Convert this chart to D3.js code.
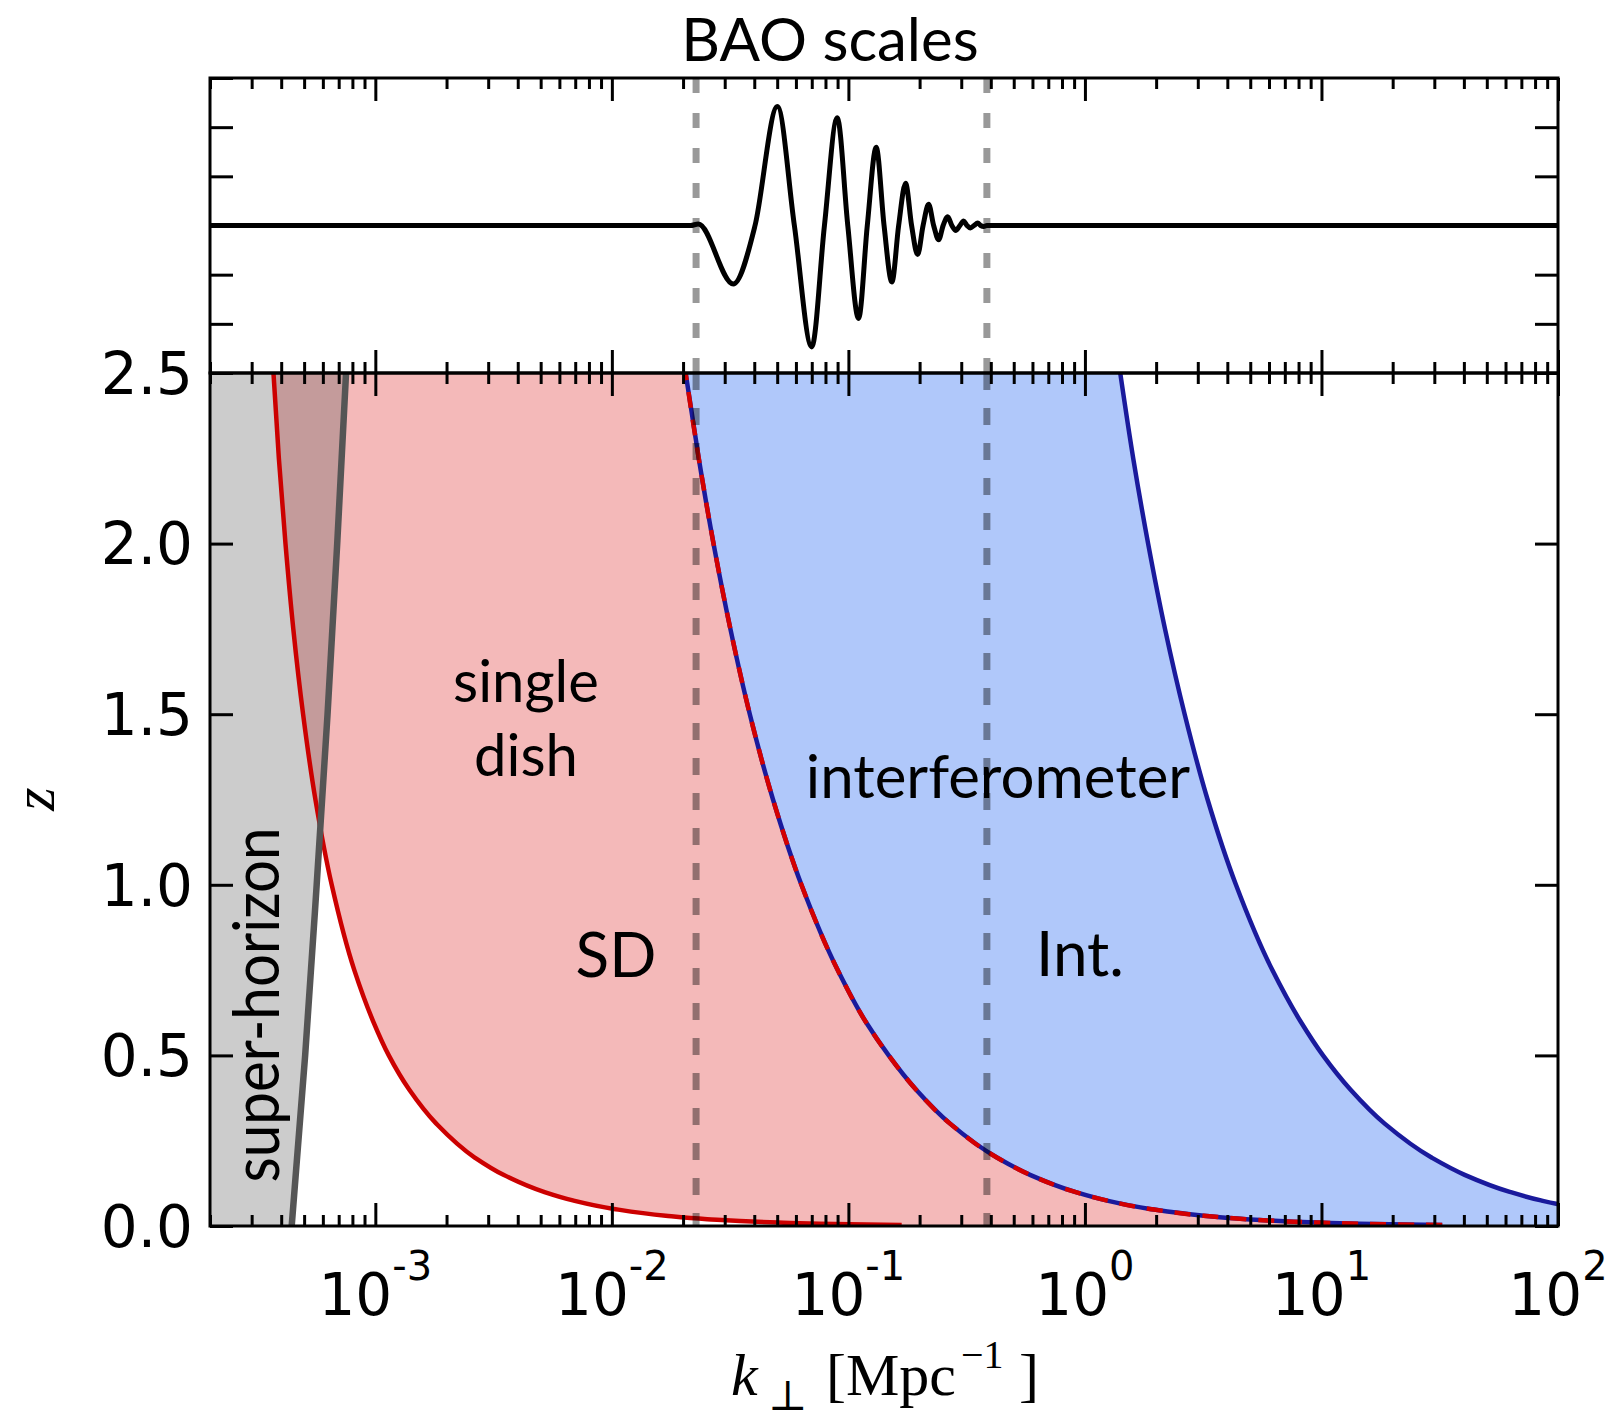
<!DOCTYPE html>
<html>
<head>
<meta charset="utf-8">
<script src="https://cdn.jsdelivr.net/npm/d3@7"></script>
<style>
  body { margin: 0; background: #fff; }
  svg { display: block; }
</style>
</head>
<body>
<div id="chart"></div>
<script>
// x axis (k_perp, Mpc^-1)
const kDomain = [2e-4, 100];
const xMajor = [1e-3, 1e-2, 1e-1, 1, 10, 100];
const xMajorExp = ["-3", "-2", "-1", "0", "1", "2"];
const zTicks = [0, 0.5, 1, 1.5, 2, 2.5];
const zTickLabels = ["0.0", "0.5", "1.0", "1.5", "2.0", "2.5"];
const topTicks = [-3, -2, -1, 0, 1, 2, 3];

// survey boundaries in the k-z plane
const zGrid = [0.003, 0.005, 0.01, 0.02, 0.03, 0.05, 0.075, 0.1, 0.15, 0.2, 0.3, 0.4, 0.5, 0.6, 0.75, 1.0, 1.25, 1.5, 1.75, 2.0, 2.25, 2.5];
const kSingleMin = [0.168, 0.101, 0.0506, 0.0253, 0.0169, 0.0102, 0.00684, 0.00516, 0.00348, 0.00264, 0.00181, 0.00139, 0.00114, 0.000979, 0.000815, 0.000654, 0.000558, 0.000495, 0.000450, 0.000417, 0.000391, 0.000371];
const kSplit = [32.4, 19.4, 9.70, 4.80, 3.18, 1.88, 1.231, 0.908, 0.586, 0.426, 0.269, 0.193, 0.148, 0.118, 0.0901, 0.0633, 0.0480, 0.0383, 0.0317, 0.0269, 0.0233, 0.0205];
const kIntMax = [2231, 1337, 667, 330, 219, 129.4, 84.7, 62.5, 40.3, 29.3, 18.5, 13.25, 10.15, 8.15, 6.20, 4.35, 3.30, 2.64, 2.18, 1.85, 1.60, 1.41];

// horizon scale
const zHorizon = [0, 0.5, 1.0, 1.5, 2.0, 2.5];
const kHorizon = [4.43e-4, 5.05e-4, 5.65e-4, 6.28e-4, 6.9e-4, 7.52e-4];

// BAO wiggles (top panel)
const baoK = [2e-4, 0.0215, 0.0232, 0.0326, 0.0403, 0.0501, 0.0591, 0.0700, 0.0792, 0.0897, 0.0994, 0.1104, 0.1202, 0.1311, 0.1415, 0.1527, 0.1631, 0.1745, 0.1850, 0.1962, 0.2069, 0.2184, 0.2293, 0.2408, 0.2515, 0.2629, 0.2738, 0.2849, 0.2960, 0.3071, 0.3172, 0.3279, 0.3396, 0.3521, 0.3624, 0.3733, 0.385, 100];
const baoP = [0, 0, 0.03, -1.19, 0, 2.42, 0, -2.47, 0, 2.19, 0, -1.89, 0, 1.59, 0, -1.15, 0, 0.86, 0, -0.59, 0, 0.43, 0, -0.29, 0, 0.18, 0, -0.10, 0, 0.09, 0, -0.05, 0, 0.05, 0, -0.02, 0, 0];
const baoRange = [0.0227, 0.385];

function init() {
  const W = 1613, H = 1425;
  const left = 210, right = 1558, top = 78, mid = 373, bottom = 1226;

  const svg = d3.select("#chart").append("svg")
    .attr("width", W).attr("height", H);
  svg.append("rect").attr("width", W).attr("height", H).attr("fill", "#fff");

  const x = d3.scaleLog().domain(kDomain).range([left, right]);
  const yTop = d3.scaleLinear().domain([-3, 3]).range([mid, top]);
  const yMain = d3.scaleLinear().domain([0, 2.5]).range([bottom, mid]);

  const xMinor = [];
  for (let e = -4; e <= 1; e++) {
    for (let m = 2; m <= 9; m++) {
      const v = m * Math.pow(10, e);
      if (v >= kDomain[0] && v < kDomain[1]) xMinor.push(v);
    }
  }

  svg.append("clipPath").attr("id", "clipMain")
    .append("rect").attr("x", left).attr("y", mid)
    .attr("width", right - left).attr("height", bottom - mid);
  svg.append("clipPath").attr("id", "clipTop")
    .append("rect").attr("x", left).attr("y", top)
    .attr("width", right - left).attr("height", mid - top);

  const rows = zGrid.map((z, i) => ({ z: z, a: kSingleMin[i], b: kSplit[i], c: kIntMax[i] }));
  const hor = zHorizon.map((z, i) => ({ z: z, k: kHorizon[i] }));

  const main = svg.append("g").attr("clip-path", "url(#clipMain)");

  // single dish band
  main.append("path").datum(rows)
    .attr("fill", "#f4b9b9")
    .attr("d", d3.area().curve(d3.curveMonotoneY)
      .y(d => yMain(d.z)).x0(d => x(d.a)).x1(d => x(d.b)));

  // interferometer band
  main.append("path").datum(rows)
    .attr("fill", "#b0c8fa")
    .attr("d", d3.area().curve(d3.curveMonotoneY)
      .y(d => yMain(d.z)).x0(d => x(d.b)).x1(d => x(d.c)));

  // super-horizon
  main.append("path").datum(hor)
    .attr("fill", "rgb(88,88,88)").attr("fill-opacity", 0.305)
    .attr("d", d3.area().curve(d3.curveMonotoneY)
      .y(d => yMain(d.z)).x0(x.range()[0]).x1(d => x(d.k)));

  const lineOf = key => d3.line().curve(d3.curveMonotoneY)
    .y(d => yMain(d.z)).x(d => x(d[key]));

  main.append("path").datum(rows)
    .attr("fill", "none").attr("stroke", "#cc0000").attr("stroke-width", 4.5)
    .attr("d", lineOf("a"));
  main.append("path").datum(rows)
    .attr("fill", "none").attr("stroke", "#1a1a9c").attr("stroke-width", 4.5)
    .attr("d", lineOf("b"));
  main.append("path").datum(rows)
    .attr("fill", "none").attr("stroke", "#d40000").attr("stroke-width", 4.5)
    .attr("stroke-dasharray", "16,12")
    .attr("d", lineOf("b"));
  main.append("path").datum(rows)
    .attr("fill", "none").attr("stroke", "#1a1a9c").attr("stroke-width", 4.5)
    .attr("d", lineOf("c"));

  main.append("path").datum(hor)
    .attr("fill", "none").attr("stroke", "#555").attr("stroke-width", 6.5)
    .attr("d", d3.line().curve(d3.curveMonotoneY).y(d => yMain(d.z)).x(d => x(d.k)));

  // BAO range markers
  main.selectAll(".vbao").data(baoRange).enter().append("line")
    .attr("x1", d => x(d)).attr("x2", d => x(d))
    .attr("y1", mid).attr("y2", bottom)
    .attr("stroke", "#000").attr("stroke-opacity", 0.4)
    .attr("stroke-width", 7).attr("stroke-dasharray", "17,18");

  // top panel
  const topG = svg.append("g").attr("clip-path", "url(#clipTop)");
  topG.selectAll(".vbao").data(baoRange).enter().append("line")
    .attr("x1", d => x(d)).attr("x2", d => x(d))
    .attr("y1", top).attr("y2", mid)
    .attr("stroke", "#000").attr("stroke-opacity", 0.4)
    .attr("stroke-width", 7).attr("stroke-dasharray", "15,20");
  topG.append("path").datum(baoK.map((k, i) => ({ k: k, p: baoP[i] })))
    .attr("fill", "none").attr("stroke", "#000").attr("stroke-width", 5)
    .attr("stroke-linejoin", "round")
    .attr("d", d3.line().curve(d3.curveMonotoneX).x(d => x(d.k)).y(d => yTop(d.p)));

  // ticks
  function ticks(axis, tx, ty) {
    svg.append("g").attr("transform", "translate(" + tx + "," + ty + ")")
      .call(axis)
      .call(g => g.select(".domain").remove())
      .call(g => g.selectAll("line").attr("stroke", "#000").attr("stroke-width", 3));
  }
  const maj = 23, mnr = 11;
  [[top, d3.axisTop], [mid, d3.axisBottom], [mid, d3.axisTop], [bottom, d3.axisBottom]].forEach(([yy, ax]) => {
    ticks(ax(x).tickValues(xMajor).tickSize(-maj).tickFormat(""), 0, yy);
    ticks(ax(x).tickValues(xMinor).tickSize(-mnr).tickFormat(""), 0, yy);
  });
  ticks(d3.axisLeft(yMain).tickValues(zTicks).tickSize(-maj).tickFormat(""), left, 0);
  ticks(d3.axisRight(yMain).tickValues(zTicks).tickSize(-maj).tickFormat(""), right, 0);
  ticks(d3.axisLeft(yTop).tickValues(topTicks).tickSize(-maj).tickFormat(""), left, 0);
  ticks(d3.axisRight(yTop).tickValues(topTicks).tickSize(-maj).tickFormat(""), right, 0);

  // frames
  svg.append("rect").attr("x", left).attr("y", top)
    .attr("width", right - left).attr("height", mid - top)
    .attr("fill", "none").attr("stroke", "#000").attr("stroke-width", 3);
  svg.append("rect").attr("x", left).attr("y", mid)
    .attr("width", right - left).attr("height", bottom - mid)
    .attr("fill", "none").attr("stroke", "#000").attr("stroke-width", 3);

  // tick labels
  svg.selectAll(".zlab").data(zTicks).enter().append("text")
    .attr("x", left - 17).attr("y", d => yMain(d)).attr("dy", "0.36em")
    .attr("text-anchor", "end")
    .style("font-family", "DejaVu Sans").style("font-size", "58px")
    .text((d, i) => zTickLabels[i]);

  const xl = svg.selectAll(".klab").data(xMajor).enter().append("text")
    .attr("x", d => x(d)).attr("y", 1315)
    .attr("text-anchor", "middle")
    .style("font-family", "DejaVu Sans").style("font-size", "58px");
  xl.append("tspan").text("10");
  xl.append("tspan").attr("dy", -35).style("font-size", "40px").text((d, i) => xMajorExp[i]);

  // axis titles
  const xt = svg.append("text").attr("y", 1395)
    .style("font-family", "Liberation Serif").style("font-size", "60px");
  xt.append("tspan").attr("x", 731).style("font-style", "italic").text("k");
  xt.append("tspan").attr("x", 768).attr("y", 1410).style("font-size", "42px")
    .style("font-family", "DejaVu Serif").text("\u22A5");
  xt.append("tspan").attr("x", 826).attr("y", 1395).text("[Mpc");
  xt.append("tspan").attr("x", 961).attr("y", 1368).style("font-size", "40px").text("\u22121");
  xt.append("tspan").attr("x", 1019).attr("y", 1395).text("]");

  svg.append("text")
    .attr("transform", "translate(54,799) rotate(-90)")
    .attr("text-anchor", "middle")
    .style("font-family", "Liberation Serif").style("font-style", "italic").style("font-size", "60px")
    .text("z");

  // annotations
  const lab = (t, tx, ty, size, rot) => svg.append("text")
    .attr("transform", "translate(" + tx + "," + ty + ")" + (rot ? " rotate(" + rot + ")" : ""))
    .attr("text-anchor", "middle")
    .style("font-family", "Lato").style("font-size", size + "px").style("fill", "#000")
    .text(t);
  lab("BAO scales", 830, 61, 60);
  lab("single", 526, 702, 58);
  lab("dish", 526, 776, 58);
  lab("SD", 616, 977, 62);
  lab("interferometer", 998, 798, 60);
  lab("Int.", 1080, 976, 62);
  lab("super-horizon", 279, 1005, 64, -90)
    .attr("textLength", 355).attr("lengthAdjust", "spacingAndGlyphs");
}

window.onload = init;
</script>
</body>
</html>
